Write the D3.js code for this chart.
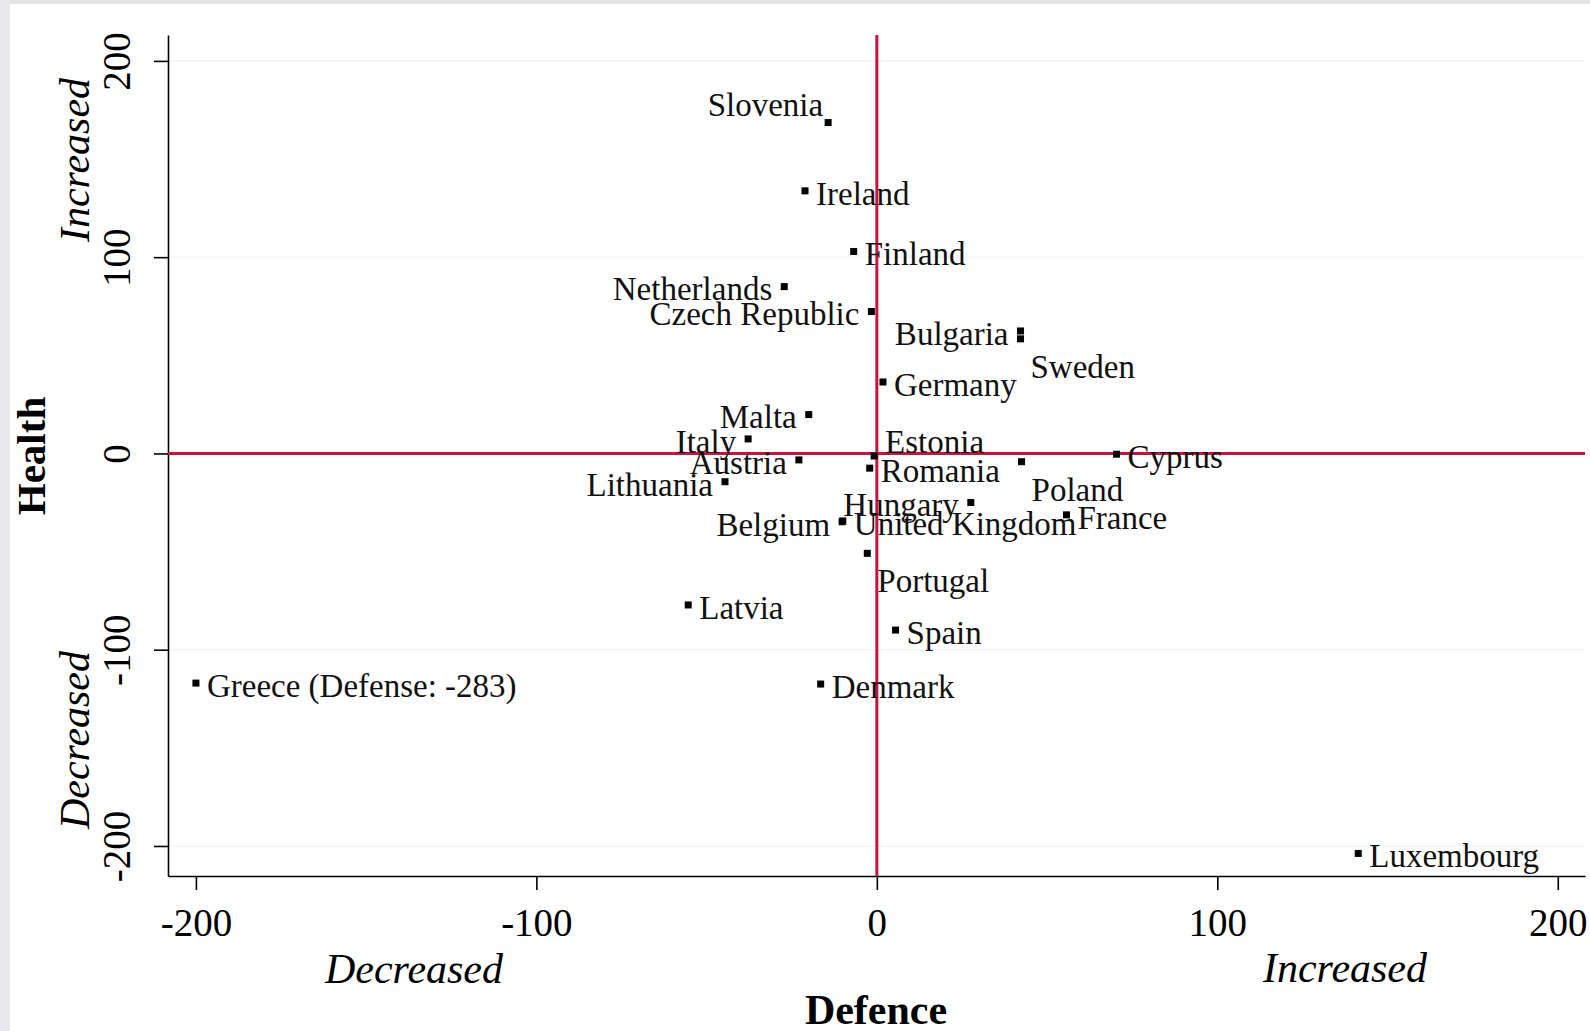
<!DOCTYPE html>
<html>
<head>
<meta charset="utf-8">
<script src="https://cdn.jsdelivr.net/npm/d3@7"></script>
<style>
	body { margin: 0; background: #fff; }
	svg { display: block; font-family: "Liberation Serif", "Times New Roman", serif; }
</style>
</head>
<body>
<div class="container"></div>
<script>
// change in spending, per country
var countries = ['Slovenia', 'Ireland', 'Finland', 'Netherlands', 'Czech Republic', 'Bulgaria', 'Sweden',
	'Germany', 'Malta', 'Italy', 'Estonia', 'Austria', 'Cyprus', 'Poland', 'Romania', 'Lithuania',
	'Hungary', 'France', 'Belgium', 'United Kingdom', 'Portugal', 'Latvia', 'Spain', 'Greece (Defense: -283)',
	'Denmark', 'Luxembourg'];
var defence = [-14.3, -21.1, -6.8, -27.2, -1.6, 42.2, 42.2,
	1.8, -20, -37.8, -0.8, -22.9, 70.4, 42.5, -2.1, -44.6,
	27.6, 55.7, -10.2, -10.0, -2.8, -55.4, 5.5, -283,
	-16.5, 141.4];
var health = [168.6, 133.8, 102.9, 85.0, 72.3, 62.4, 58.4,
	36.4, 19.8, 7.4, -1.3, -3.3, -0.4, -4.2, -7.5, -14.4,
	-25, -31.3, -34.8, -34.4, -50.9, -77.2, -90.0, -117,
	-117.5, -203.8];
// marker label position, stata clock style
var labelClock = [11, 3, 3, 9, 9, 9, 4,
	3, 9, 9, 1, 9, 3, 4, 3, 9,
	9, 3, 9, 3, 4, 3, 3, 3,
	3, 3];

var xTicks = [-200, -100, 0, 100, 200];
var yTicks = [-200, -100, 0, 100, 200];

function labelOffset(c) {
	switch (c) {
		case 9:
			return {dx: -12, dy: 0, anchor: 'end'};
		case 11:
			return {dx: -5, dy: -20, anchor: 'end'};
		case 1:
			return {dx: 11, dy: -17, anchor: 'start'};
		case 4:
			return {dx: 10, dy: 25, anchor: 'start'};
		default:
			return {dx: 11, dy: 0, anchor: 'start'};
	}
}

var W = 1590, H = 1031;
var svg = d3.select('.container').append('svg')
	.attr('width', W)
	.attr('height', H);

// grey frame of the screenshot
svg.append('rect').attr('x', 0).attr('y', 0).attr('width', W).attr('height', 4).style('fill', '#e4e4e6');
svg.append('rect').attr('x', 0).attr('y', 0).attr('width', 10).attr('height', H).style('fill', '#e8e8ea');

var x = d3.scaleLinear().domain([-208.2, 208]).range([168, 1585]);
var y = d3.scaleLinear().domain([-215.3, 213.2]).range([876, 35]);

// faint y grid
svg.append('g').selectAll('line').data(yTicks).enter().append('line')
	.attr('x1', 170).attr('x2', 1585)
	.attr('y1', function(d) { return y(d); })
	.attr('y2', function(d) { return y(d); })
	.style('stroke', '#f5f5f5')
	.style('stroke-width', 2);

// plain hyphen for negatives, as in the original
var tickText = function(d) { return String(d); };

var xAxis = svg.append('g')
	.attr('transform', 'translate(0,' + y.range()[0] + ')')
	.call(d3.axisBottom(x).tickValues(xTicks).tickSize(14).tickSizeOuter(0).tickPadding(18).tickFormat(tickText));
xAxis.selectAll('text')
	.style('font-size', '39px')
	.style('font-family', '"Liberation Serif", serif')
	.style('fill', '#000');

var yAxis = svg.append('g')
	.attr('transform', 'translate(' + x.range()[0] + ',0)')
	.call(d3.axisLeft(y).tickValues(yTicks).tickSize(14).tickSizeOuter(0).tickFormat(tickText));
yAxis.selectAll('text')
	.attr('transform', 'rotate(-90)')
	.attr('x', 0)
	.attr('y', -38)
	.attr('dy', 0)
	.style('text-anchor', 'middle')
	.style('font-size', '39px')
	.style('font-family', '"Liberation Serif", serif')
	.style('fill', '#000');

svg.selectAll('.domain, .tick line').style('stroke', '#000').style('stroke-width', 1.6);

// reference lines through zero
svg.append('line')
	.attr('x1', x(0)).attr('x2', x(0))
	.attr('y1', y.range()[1]).attr('y2', y.range()[0])
	.style('stroke', '#cc1040').style('stroke-width', 3);
svg.append('line')
	.attr('x1', x.range()[0]).attr('x2', x.range()[1])
	.attr('y1', y(0)).attr('y2', y(0))
	.style('stroke', '#cc1040').style('stroke-width', 3);

// points (greece off the scale, drawn at the edge)
var node = svg.append('g').selectAll('g').data(countries).enter().append('g')
	.attr('transform', function(d, i) {
		return 'translate(' + x(Math.max(-200, defence[i])) + ',' + y(health[i]) + ')';
	});

node.append('rect')
	.attr('x', -3.5).attr('y', -3.5)
	.attr('width', 7).attr('height', 7)
	.style('fill', '#000');

node.append('text')
	.attr('x', function(d, i) { return labelOffset(labelClock[i]).dx; })
	.attr('y', function(d, i) { return labelOffset(labelClock[i]).dy; })
	.attr('dy', '0.42em')
	.style('text-anchor', function(d, i) { return labelOffset(labelClock[i]).anchor; })
	.style('font-size', '33px')
	.style('fill', '#111')
	.text(function(d) { return d; });

// axis titles
svg.append('text')
	.attr('transform', 'translate(45,456) rotate(-90)')
	.style('text-anchor', 'middle')
	.style('font-weight', 'bold')
	.style('font-size', '41px')
	.text('Health');
svg.append('text')
	.attr('transform', 'translate(89,160) rotate(-90)')
	.style('text-anchor', 'middle')
	.style('font-style', 'italic')
	.style('font-size', '42px')
	.text('Increased');
svg.append('text')
	.attr('transform', 'translate(89,740) rotate(-90)')
	.style('text-anchor', 'middle')
	.style('font-style', 'italic')
	.style('font-size', '42px')
	.text('Decreased');

svg.append('text')
	.attr('x', 414).attr('y', 983)
	.style('text-anchor', 'middle')
	.style('font-style', 'italic')
	.style('font-size', '42px')
	.text('Decreased');
svg.append('text')
	.attr('x', 1345).attr('y', 982)
	.style('text-anchor', 'middle')
	.style('font-style', 'italic')
	.style('font-size', '42px')
	.text('Increased');
svg.append('text')
	.attr('x', 876).attr('y', 1024)
	.style('text-anchor', 'middle')
	.style('font-weight', 'bold')
	.style('font-size', '42px')
	.text('Defence');
</script>
</body>
</html>
